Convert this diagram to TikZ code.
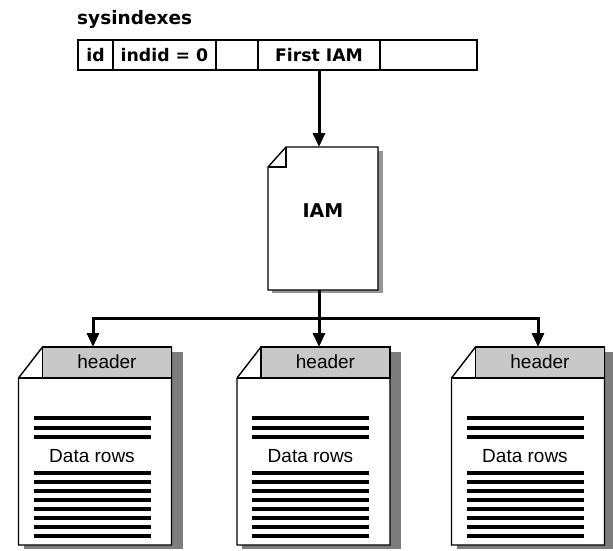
\documentclass[tikz,border=0pt]{standalone}
\usepackage{fontspec}
\setmainfont{Liberation Sans}
\newfontfamily\dvs{DejaVu Sans}
\usetikzlibrary{arrows.meta,calc}
\definecolor{hdrgray}{RGB}{200,200,200}
\definecolor{pshadow}{RGB}{125,125,125}
\definecolor{ishadow}{RGB}{150,150,150}
\begin{document}
\begin{tikzpicture}[x=1pt,y=-1pt,
  border/.style={line width=1.4pt, line join=miter},
  conn/.style={line width=3pt, line join=miter, -{Triangle[length=14pt,width=12pt]}},
  cell/.style={draw, line width=1.4pt, minimum height=30pt, inner sep=0pt, outer sep=0pt, anchor=north west,
    font=\dvs\bfseries\fontsize{17.3}{19}\selectfont},
  page/.style={minimum width=153pt, minimum height=198pt, inner sep=0pt, outer sep=0pt},
  dataline/.style={line width=3.3pt},
  plain/.style={font=\fontsize{19}{21}\selectfont, inner sep=0pt}]
\useasboundingbox (0,0) rectangle (613,551);

% title
\node[anchor=base west, inner sep=0pt, font=\dvs\bfseries\fontsize{18.5}{20}\selectfont] (title) at (77,25) {sysindexes};

% table
\node[cell, minimum width=35pt] (id) at (78,40) {id};
\node[cell, minimum width=103pt] (indid) at (113,40) {indid = 0};
\node[cell, minimum width=42pt] (e1) at (216,40) {};
\node[cell, minimum width=122pt] (first) at (258,40) {First IAM};
\node[cell, minimum width=97pt] (e2) at (380,40) {};

% IAM document
\node[minimum width=110pt, minimum height=143pt, inner sep=0pt, outer sep=0pt] (iam) at (323,218.5) {};
\fill[ishadow] ($(iam.north east)+(0,4)$) rectangle ($(iam.south east)+(5,3)$);
\fill[ishadow] ($(iam.south west)+(4,0)$) rectangle ($(iam.south east)+(5,3)$);
\filldraw[fill=white, border] ($(iam.north west)+(0,20)$) -- ($(iam.north west)+(18,0)$) -- (iam.north east) -- (iam.south east) -- (iam.south west) -- cycle;
\draw[border] ($(iam.north west)+(0,20)$) -- ($(iam.north west)+(18,20)$) -- ($(iam.north west)+(18,0)$);
\node[inner sep=0pt, font=\dvs\bfseries\fontsize{19}{21}\selectfont] (iamtxt) at (323,211) {IAM};

% pages
\node[page] (p1) at (95,446) {};
\node[page] (p2) at (313.5,446) {};
\node[page] (p3) at (528,446) {};
\foreach \p in {p1,p2,p3} {
  \fill[pshadow] ($(\p.north east)+(0,5)$) rectangle ($(\p.south east)+(11,4)$);
  \fill[pshadow] ($(\p.south west)+(5,0)$) rectangle ($(\p.south east)+(11,4)$);
  \filldraw[fill=white, border] ($(\p.north west)+(0,31)$) -- ($(\p.north west)+(24,0)$) -- (\p.north east) -- (\p.south east) -- (\p.south west) -- cycle;
  \filldraw[fill=hdrgray, border] ($(\p.north west)+(24,0)$) rectangle ($(\p.north east)+(0,31)$);
  \draw[border] ($(\p.north west)+(0,31)$) -- ($(\p.north west)+(24,31)$);
  \node[plain] (\p-hdr) at ($(\p.north west)+(88.5,15)$) {header};
  \foreach \yy in {71,81,90,126,135,144,153,162,171,180,189}
    \draw[dataline] ($(\p.north west)+(15,\yy)$) -- ($(\p.north west)+(132,\yy)$);
  \node[plain] (\p-txt) at ($(\p.north west)+(73.5,109)$) {Data rows};
}

% connectors
\coordinate (busL) at (93,318);
\coordinate (busR) at (538,318);
\coordinate (busM) at (first.south |- busL);
\draw[conn] (first.south) -- (first.south |- iam.north);
\draw[conn] (first.south |- iam.south) -- (first.south |- p2.north);
\draw[conn] (busM) -- (busL) -- (busL |- p1.north);
\draw[conn] (busM) -- (busR) -- (busR |- p3.north);
\end{tikzpicture}
\end{document}
